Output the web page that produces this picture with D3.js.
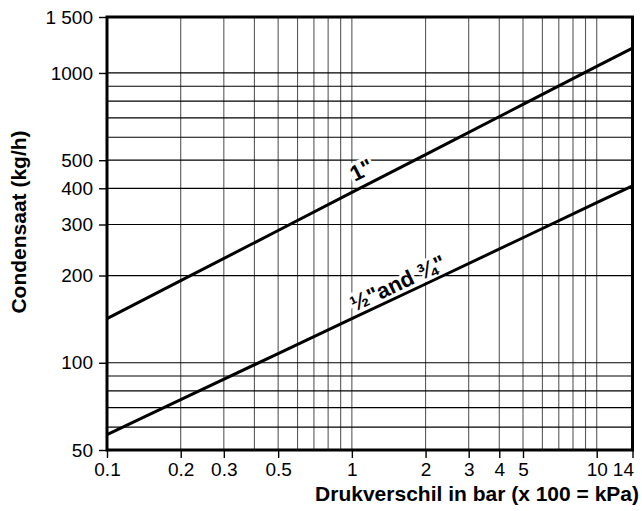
<!DOCTYPE html>
<html>
<head>
<meta charset="utf-8">
<script src="https://cdn.jsdelivr.net/npm/d3@7"></script>
<style>
  body { margin: 0; background: #fff; }
  svg { font-family: "Liberation Sans", Arial, Helvetica, sans-serif; }
</style>
</head>
<body>
<div id="chart"></div>
<script>
// pressure drop (bar) and condensate capacity (kg/h)
const pressure = [0.1, 0.2, 0.5, 1, 2, 5, 10, 14];
const flowOneInch = [142, 192, 286, 387, 523, 779, 1054, 1218];
const flowHalfThreeQuarter = [56.5, 74.6, 107.6, 142, 187, 270, 357, 408];

const xTickValues = [0.1, 0.2, 0.3, 0.5, 1, 2, 3, 4, 5, 10, 14];
const xTickLabels = ["0.1", "0.2", "0.3", "0.5", "1", "2", "3", "4", "5", "10", "14"];
// top of the frame is labelled "1 500" in the source
const yTickValues = [50, 100, 200, 300, 400, 500, 1000, 1560];
const yTickLabels = ["50", "100", "200", "300", "400", "500", "1000", "1 500"];

const xGrid = [0.2, 0.3, 0.4, 0.5, 0.6, 0.7, 0.8, 0.9, 1, 2, 3, 4, 5, 6, 7, 8, 9, 10];
const yGrid = [60, 70, 80, 90, 100, 200, 300, 400, 500, 600, 700, 800, 900, 1000];

const series = [
  { name: "1\"", values: flowOneInch, labelAt: 1.17, dy: -8 },
  { name: "\u00bd\"and \u00be\"", values: flowHalfThreeQuarter, labelAt: 1.62, dy: -5 }
];

const margin = { top: 17, right: 9.5, bottom: 61, left: 107 };
const W = 642, H = 511;
const width = W - margin.left - margin.right;
const height = H - margin.top - margin.bottom;

const svg = d3.select("#chart").append("svg")
  .attr("width", W)
  .attr("height", H);

const g = svg.append("g")
  .attr("transform", `translate(${margin.left},${margin.top})`);

const x = d3.scaleLog().domain([0.1, 14]).range([0, width]);
const y = d3.scaleLog().domain([50, 1560]).range([height, 0]);

// grid
g.append("g").selectAll("line")
  .data(xGrid)
  .join("line")
  .attr("x1", d => x(d)).attr("x2", d => x(d))
  .attr("y1", 0).attr("y2", height)
  .attr("stroke", "#5a5a5a")
  .attr("stroke-width", 1.1);

g.append("g").selectAll("line")
  .data(yGrid)
  .join("line")
  .attr("x1", 0).attr("x2", width)
  .attr("y1", d => y(d)).attr("y2", d => y(d))
  .attr("stroke", "#000")
  .attr("stroke-width", 1.2);

// axes
const xAxis = g.append("g")
  .attr("transform", `translate(0,${height})`)
  .call(d3.axisBottom(x)
    .tickValues(xTickValues)
    .tickFormat((d, i) => xTickLabels[i])
    .tickSize(8)
    .tickPadding(5));

const yAxis = g.append("g")
  .call(d3.axisLeft(y)
    .tickValues(yTickValues)
    .tickFormat((d, i) => yTickLabels[i])
    .tickSize(8)
    .tickPadding(6));

[xAxis, yAxis].forEach(a => {
  a.select(".domain").remove();
  a.selectAll(".tick line").attr("stroke", "#000").attr("stroke-width", 1.4);
  a.selectAll(".tick text")
    .attr("fill", "#000")
    .style("font-size", "19px")
    .style("font-family", "\"Liberation Sans\", Arial, sans-serif");
});

// last x label sits flush against the right edge of the frame
xAxis.selectAll(".tick text")
  .filter((d, i, n) => i === n.length - 1)
  .attr("text-anchor", "end")
  .attr("x", 1);

// line labels (with white halo that breaks the grid)
series.forEach(s => {
  const a = [pressure[0], s.values[0]];
  const b = [pressure[pressure.length - 1], s.values[s.values.length - 1]];
  const angle = Math.atan2(y(b[1]) - y(a[1]), x(b[0]) - x(a[0])) * 180 / Math.PI;
  // position on the line between the two surrounding read points
  const i = d3.bisectLeft(pressure, s.labelAt);
  const lx0 = Math.log(pressure[i - 1]), lx1 = Math.log(pressure[i]);
  const t = (Math.log(s.labelAt) - lx0) / (lx1 - lx0);
  const ly = Math.exp(Math.log(s.values[i - 1]) + t * (Math.log(s.values[i]) - Math.log(s.values[i - 1])));
  g.append("text")
    .attr("transform", `translate(${x(s.labelAt)},${y(ly)}) rotate(${angle})`)
    .attr("dy", s.dy)
    .attr("text-anchor", "middle")
    .style("font-size", "22px")
    .style("font-weight", "bold")
    .attr("fill", "#000")
    .attr("stroke", "#fff")
    .attr("stroke-width", 6)
    .attr("paint-order", "stroke")
    .text(s.name);
});

// series lines
const line = d3.line()
  .x(d => x(d[0]))
  .y(d => y(d[1]));

series.forEach(s => {
  g.append("path")
    .datum(d3.zip(pressure, s.values))
    .attr("fill", "none")
    .attr("stroke", "#000")
    .attr("stroke-width", 3)
    .attr("d", line);
});

// frame
g.append("rect")
  .attr("x", 0).attr("y", 0)
  .attr("width", width).attr("height", height)
  .attr("fill", "none")
  .attr("stroke", "#000")
  .attr("stroke-width", 3);

// axis titles
svg.append("text")
  .attr("x", 639)
  .attr("y", 501)
  .attr("text-anchor", "end")
  .style("font-size", "21px")
  .style("font-weight", "bold")
  .text("Drukverschil in bar (x 100 = kPa)");

svg.append("text")
  .attr("transform", "translate(26,222) rotate(-90)")
  .attr("text-anchor", "middle")
  .style("font-size", "21px")
  .style("font-weight", "bold")
  .text("Condensaat (kg/h)");
</script>
</body>
</html>
